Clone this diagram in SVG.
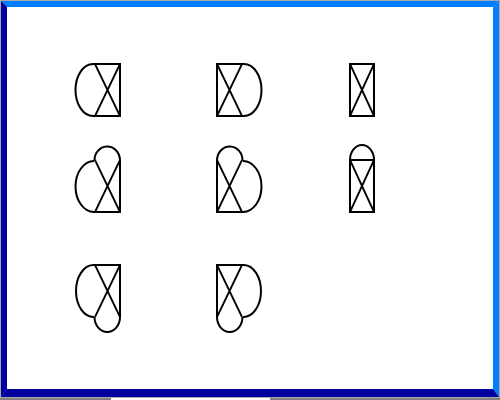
<svg xmlns="http://www.w3.org/2000/svg" width="500" height="400" viewBox="0 0 500 400">
  <style>
    .edge { fill: none; stroke: #000; stroke-width: 2; stroke-linejoin: miter; }
    .arc { fill: none; stroke: #000; stroke-width: 2; }
    .diag { fill: none; stroke: #000; stroke-width: 1.8; }
  </style>
  <g id="frame">
    <rect x="0" y="0" width="500" height="400" fill="#a8a8a8"/>
    <rect x="0" y="398" width="500" height="2" fill="#808080"/>
    <rect x="111" y="398" width="159" height="2" fill="#ffffff"/>
    <polygon points="1,1 499,1 493,7 7,7" fill="#0080ff"/>
    <polygon points="499,1 499,397 493,389 493,7" fill="#0080ff"/>
    <polygon points="1,1 7,7 7,389 1,397" fill="#0000a0"/>
    <polygon points="1,397 7,389 493,389 499,397" fill="#0000a0"/>
    <rect x="7" y="7" width="486" height="382" fill="#ffffff"/>
  </g>
  <g id="connectors"/>
  <g id="node1">
    <path class="edge" d="M93,64 H120 V116 H93"/>
    <path class="arc" d="M93,64 A17.5,26 0 0 0 93,116"/>
    <path class="diag" d="M95,64 L120,116 M120,64 L95,116"/>
  </g>
  <g id="node2">
    <path class="edge" d="M244,64 H217 V116 H244"/>
    <path class="arc" d="M244,64 A17.5,26 0 0 1 244,116"/>
    <path class="diag" d="M217,64 L242,116 M242,64 L217,116"/>
  </g>
  <g id="node3">
    <rect class="edge" x="350" y="64" width="24" height="52"/>
    <path class="diag" d="M350,64 L374,116 M374,64 L350,116"/>
  </g>
  <g id="node4">
    <path class="edge" d="M120,160 V212 H94"/>
    <path class="arc" d="M94,161 A18.5,25.5 0 0 0 94,212"/>
    <path class="arc" d="M94.5,161 A12.75,14 0 0 1 120,160"/>
    <path class="diag" d="M95,160 L120,212 M120,160 L95,212"/>
  </g>
  <g id="node5">
    <path class="edge" d="M217,160 V212 H243"/>
    <path class="arc" d="M243,161 A18.5,25.5 0 0 1 243,212"/>
    <path class="arc" d="M217,160 A12.75,14 0 0 1 242.5,161"/>
    <path class="diag" d="M217,160 L242,212 M242,160 L217,212"/>
  </g>
  <g id="node6">
    <rect class="edge" x="350" y="160" width="24" height="52"/>
    <path class="arc" d="M350,160 A12,15 0 0 1 374,160"/>
    <path class="diag" d="M350,160 L374,212 M374,160 L350,212"/>
  </g>
  <g id="node7">
    <path class="edge" d="M93,265 H120 V317"/>
    <path class="arc" d="M93,265 A17.5,26 0 0 0 94,317"/>
    <path class="arc" d="M94.5,317 A12.75,15 0 0 0 120,317"/>
    <path class="diag" d="M95,265 L120,317 M120,265 L95,317"/>
  </g>
  <g id="node8">
    <path class="edge" d="M244,265 H217 V317"/>
    <path class="arc" d="M244,265 A17.5,26 0 0 1 243,317"/>
    <path class="arc" d="M217,317 A12.75,15 0 0 0 242.5,317"/>
    <path class="diag" d="M217,265 L242,317 M242,265 L217,317"/>
  </g>
</svg>
